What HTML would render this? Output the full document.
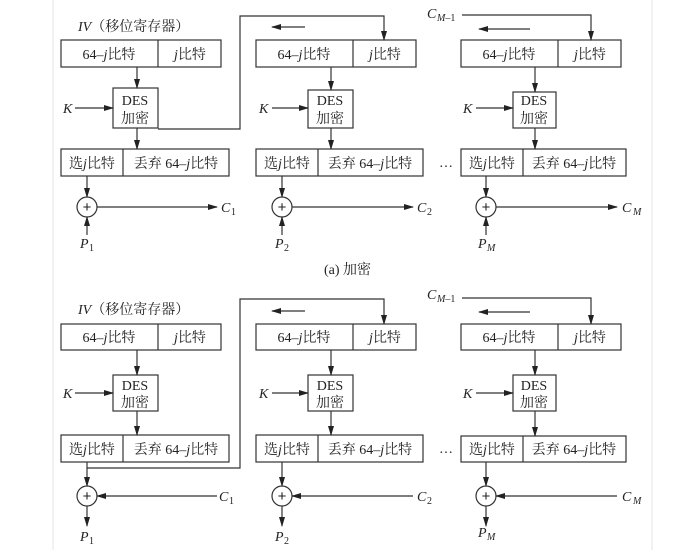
<!DOCTYPE html>
<html><head><meta charset="utf-8"><style>
html,body{margin:0;padding:0;background:#fff;width:695px;height:550px;overflow:hidden}
svg{display:block}
text{font-family:"Liberation Serif","Noto Serif CJK SC","Noto Sans CJK SC",serif;font-size:14px;fill:#222}
.i{font-style:italic}
.s{font-size:10px}
.p{font-family:"Liberation Sans",sans-serif;font-size:15px}
</style></head><body>
<svg width="695" height="550" viewBox="0 0 695 550" xmlns="http://www.w3.org/2000/svg">
<defs>
<marker id="a" markerWidth="10" markerHeight="8" refX="9" refY="4" orient="auto" markerUnits="userSpaceOnUse"><path d="M0,1 L10,4 L0,7 Z" fill="#222"/></marker>
</defs>
<line x1="53" y1="0" x2="53" y2="550" stroke="#e6e6e6"/>
<line x1="652" y1="0" x2="652" y2="550" stroke="#e6e6e6"/>
<g stroke="#333" stroke-width="1.2" fill="none">
<rect x="61" y="40" width="160" height="27"/><line x1="158" y1="40" x2="158" y2="67"/>
<rect x="113" y="88" width="45" height="40"/>
<rect x="61" y="149" width="168" height="27"/><line x1="123" y1="149" x2="123" y2="176"/>
<line x1="137" y1="67" x2="137" y2="88" marker-end="url(#a)"/>
<line x1="75" y1="108" x2="113" y2="108" marker-end="url(#a)"/>
<line x1="137" y1="128" x2="137" y2="149" marker-end="url(#a)"/>
<line x1="87" y1="176" x2="87" y2="197" marker-end="url(#a)"/>
<circle cx="87" cy="207" r="10"/>
<line x1="87" y1="235" x2="87" y2="217" marker-end="url(#a)"/>
<line x1="97" y1="207" x2="217" y2="207" marker-end="url(#a)"/>
<polyline points="158,129 240,129 240,16 384,16 384,40" marker-end="url(#a)"/>
<rect x="256" y="40" width="160" height="27"/><line x1="353" y1="40" x2="353" y2="67"/>
<rect x="308" y="90" width="45" height="38"/>
<rect x="256" y="149" width="167" height="27"/><line x1="318" y1="149" x2="318" y2="176"/>
<line x1="305" y1="27" x2="272" y2="27" marker-end="url(#a)"/>
<line x1="331" y1="67" x2="331" y2="90" marker-end="url(#a)"/>
<line x1="272" y1="108" x2="308" y2="108" marker-end="url(#a)"/>
<line x1="331" y1="128" x2="331" y2="149" marker-end="url(#a)"/>
<line x1="282" y1="176" x2="282" y2="197" marker-end="url(#a)"/>
<circle cx="282" cy="207" r="10"/>
<line x1="282" y1="235" x2="282" y2="217" marker-end="url(#a)"/>
<line x1="292" y1="207" x2="413" y2="207" marker-end="url(#a)"/>
<rect x="461" y="40" width="160" height="27"/><line x1="558" y1="40" x2="558" y2="67"/>
<rect x="513" y="92" width="43" height="36"/>
<rect x="461" y="149" width="165" height="27"/><line x1="523" y1="149" x2="523" y2="176"/>
<polyline points="462,15 591,15 591,40" marker-end="url(#a)"/>
<line x1="530" y1="29" x2="479" y2="29" marker-end="url(#a)"/>
<line x1="535" y1="67" x2="535" y2="92" marker-end="url(#a)"/>
<line x1="476" y1="108" x2="513" y2="108" marker-end="url(#a)"/>
<line x1="535" y1="128" x2="535" y2="149" marker-end="url(#a)"/>
<line x1="486" y1="176" x2="486" y2="197" marker-end="url(#a)"/>
<circle cx="486" cy="207" r="10"/>
<line x1="486" y1="235" x2="486" y2="217" marker-end="url(#a)"/>
<line x1="496" y1="207" x2="617" y2="207" marker-end="url(#a)"/>

<rect x="61" y="324" width="160" height="26"/><line x1="158" y1="324" x2="158" y2="350"/>
<rect x="113" y="375" width="45" height="36"/>
<rect x="61" y="435" width="168" height="27"/><line x1="123" y1="435" x2="123" y2="462"/>
<line x1="137" y1="350" x2="137" y2="375" marker-end="url(#a)"/>
<line x1="75" y1="393" x2="113" y2="393" marker-end="url(#a)"/>
<line x1="137" y1="411" x2="137" y2="435" marker-end="url(#a)"/>
<line x1="87" y1="462" x2="87" y2="486" marker-end="url(#a)"/>
<circle cx="87" cy="496" r="10"/>
<line x1="87" y1="506" x2="87" y2="526" marker-end="url(#a)"/>
<line x1="217" y1="496" x2="97" y2="496" marker-end="url(#a)"/>
<polyline points="87,468 240,468 240,299 384,299 384,324" marker-end="url(#a)"/>
<rect x="256" y="324" width="160" height="26"/><line x1="353" y1="324" x2="353" y2="350"/>
<rect x="308" y="375" width="45" height="36"/>
<rect x="256" y="435" width="167" height="27"/><line x1="318" y1="435" x2="318" y2="462"/>
<line x1="305" y1="311" x2="272" y2="311" marker-end="url(#a)"/>
<line x1="331" y1="350" x2="331" y2="375" marker-end="url(#a)"/>
<line x1="272" y1="393" x2="308" y2="393" marker-end="url(#a)"/>
<line x1="331" y1="411" x2="331" y2="435" marker-end="url(#a)"/>
<line x1="282" y1="462" x2="282" y2="486" marker-end="url(#a)"/>
<circle cx="282" cy="496" r="10"/>
<line x1="282" y1="506" x2="282" y2="526" marker-end="url(#a)"/>
<line x1="413" y1="496" x2="292" y2="496" marker-end="url(#a)"/>
<rect x="461" y="324" width="160" height="26"/><line x1="558" y1="324" x2="558" y2="350"/>
<rect x="513" y="375" width="43" height="36"/>
<rect x="461" y="436" width="165" height="26"/><line x1="523" y1="436" x2="523" y2="462"/>
<polyline points="462,298 591,298 591,324" marker-end="url(#a)"/>
<line x1="530" y1="312" x2="479" y2="312" marker-end="url(#a)"/>
<line x1="535" y1="350" x2="535" y2="375" marker-end="url(#a)"/>
<line x1="476" y1="393" x2="513" y2="393" marker-end="url(#a)"/>
<line x1="535" y1="411" x2="535" y2="436" marker-end="url(#a)"/>
<line x1="486" y1="462" x2="486" y2="486" marker-end="url(#a)"/>
<circle cx="486" cy="496" r="10"/>
<line x1="486" y1="506" x2="486" y2="526" marker-end="url(#a)"/>
<line x1="617" y1="496" x2="496" y2="496" marker-end="url(#a)"/>
</g>

<g text-anchor="middle">
<text x="87" y="212" class="p">+</text><text x="282" y="212" class="p">+</text><text x="486" y="212" class="p">+</text>
<text x="87" y="501" class="p">+</text><text x="282" y="501" class="p">+</text><text x="486" y="501" class="p">+</text>
</g>

<text x="78" y="31"><tspan class="i">IV</tspan>（移位寄存器）</text>
<g text-anchor="middle">
<text x="109" y="59">64–<tspan class="i">j</tspan>比特</text><text x="190" y="59"><tspan class="i">j</tspan>比特</text>
<text x="135" y="105">DES</text><text x="135" y="123">加密</text>
<text x="92" y="168">选<tspan class="i">j</tspan>比特</text><text x="176" y="168">丢弃 64–<tspan class="i">j</tspan>比特</text>
<text x="304" y="59">64–<tspan class="i">j</tspan>比特</text><text x="385" y="59"><tspan class="i">j</tspan>比特</text>
<text x="330" y="105">DES</text><text x="330" y="123">加密</text>
<text x="287" y="168">选<tspan class="i">j</tspan>比特</text><text x="370" y="168">丢弃 64–<tspan class="i">j</tspan>比特</text>
<text x="509" y="59">64–<tspan class="i">j</tspan>比特</text><text x="590" y="59"><tspan class="i">j</tspan>比特</text>
<text x="534" y="105">DES</text><text x="534" y="123">加密</text>
<text x="492" y="168">选<tspan class="i">j</tspan>比特</text><text x="574" y="168">丢弃 64–<tspan class="i">j</tspan>比特</text>
</g>
<text x="439" y="167">…</text>
<text x="63" y="113" class="i">K</text><text x="259" y="113" class="i">K</text><text x="463" y="113" class="i">K</text>
<text x="221" y="212" class="i">C</text><text x="231" y="215" class="s">1</text>
<text x="417" y="212" class="i">C</text><text x="427" y="215" class="s">2</text>
<text x="622" y="212" class="i">C</text><text x="633" y="215" class="s i">M</text>
<text x="80" y="248" class="i">P</text><text x="89" y="251" class="s">1</text>
<text x="275" y="248" class="i">P</text><text x="284" y="251" class="s">2</text>
<text x="478" y="248" class="i">P</text><text x="487" y="251" class="s i">M</text>
<text x="427" y="18" class="i">C</text><text x="437" y="21" class="s"><tspan class="i">M</tspan>–1</text>
<text x="324" y="274">(a)  加密</text>

<text x="78" y="314"><tspan class="i">IV</tspan>（移位寄存器）</text>
<g text-anchor="middle">
<text x="109" y="342">64–<tspan class="i">j</tspan>比特</text><text x="190" y="342"><tspan class="i">j</tspan>比特</text>
<text x="135" y="390">DES</text><text x="135" y="407">加密</text>
<text x="92" y="454">选<tspan class="i">j</tspan>比特</text><text x="176" y="454">丢弃 64–<tspan class="i">j</tspan>比特</text>
<text x="304" y="342">64–<tspan class="i">j</tspan>比特</text><text x="385" y="342"><tspan class="i">j</tspan>比特</text>
<text x="330" y="390">DES</text><text x="330" y="407">加密</text>
<text x="287" y="454">选<tspan class="i">j</tspan>比特</text><text x="370" y="454">丢弃 64–<tspan class="i">j</tspan>比特</text>
<text x="509" y="342">64–<tspan class="i">j</tspan>比特</text><text x="590" y="342"><tspan class="i">j</tspan>比特</text>
<text x="534" y="390">DES</text><text x="534" y="407">加密</text>
<text x="492" y="454">选<tspan class="i">j</tspan>比特</text><text x="574" y="454">丢弃 64–<tspan class="i">j</tspan>比特</text>
</g>
<text x="439" y="453">…</text>
<text x="63" y="398" class="i">K</text><text x="259" y="398" class="i">K</text><text x="463" y="398" class="i">K</text>
<text x="219" y="501" class="i">C</text><text x="229" y="504" class="s">1</text>
<text x="417" y="501" class="i">C</text><text x="427" y="504" class="s">2</text>
<text x="622" y="501" class="i">C</text><text x="633" y="504" class="s i">M</text>
<text x="80" y="541" class="i">P</text><text x="89" y="544" class="s">1</text>
<text x="275" y="541" class="i">P</text><text x="284" y="544" class="s">2</text>
<text x="478" y="537" class="i">P</text><text x="487" y="540" class="s i">M</text>
<text x="427" y="299" class="i">C</text><text x="437" y="302" class="s"><tspan class="i">M</tspan>–1</text>
</svg>
</body></html>
